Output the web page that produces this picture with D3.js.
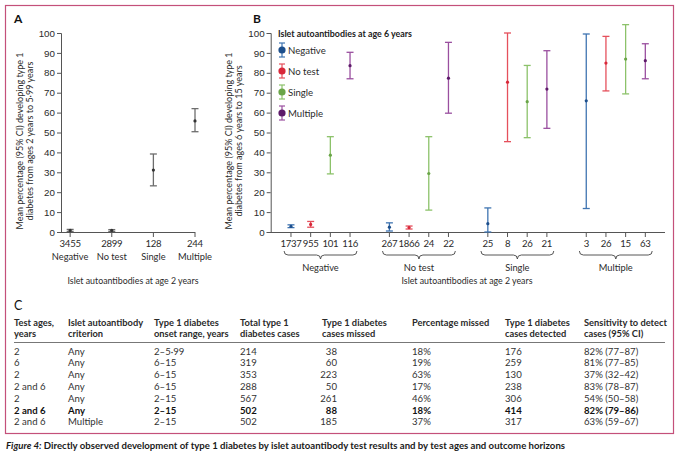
<!DOCTYPE html>
<html>
<head>
<meta charset="utf-8">
<script src="https://cdn.jsdelivr.net/npm/d3@7"></script>
<style>
  body { margin: 0; background: #fff; }
  svg { display: block; font-family: "Lato", "Open Sans", sans-serif; }
</style>
</head>
<body>
<div id="chart"></div>
<script>
// Panel A: autoantibodies at age 2, outcome 2 to 5.99 years
const aCategories = ["Negative", "No test", "Single", "Multiple"];
const aCounts = ["3455", "2899", "128", "244"];
const aMean = [0.8, 0.8, 31.1, 55.8];
const aLow = [0.3, 0.3, 23.2, 50.4];
const aHigh = [1.3, 1.2, 39.2, 62.0];

// Panel B: groups = result at age 2, series = result at age 6
const bGroups = ["Negative", "No test", "Single", "Multiple"];
const bSeries = ["Negative", "No test", "Single", "Multiple"];
const bCounts = [
  ["1737", "955", "101", "116"],
  ["267", "1866", "24", "22"],
  ["25", "8", "26", "21"],
  ["3", "26", "15", "63"]
];
const bMean = [
  [2.8, 3.8, 38.6, 83.6],
  [2.4, 2.2, 29.4, 77.3],
  [4.2, 75.3, 65.5, 71.8],
  [65.9, 84.9, 86.9, 86.1]
];
const bLow = [
  [2.2, 2.4, 29.2, 77.0],
  [0.5, 1.5, 11.0, 59.7],
  [0.0, 45.4, 47.4, 52.1],
  [11.8, 70.9, 69.4, 77.0]
];
const bHigh = [
  [3.6, 5.3, 47.9, 90.3],
  [4.6, 3.0, 47.9, 95.3],
  [12.1, 100, 83.7, 91.1],
  [99.5, 98.3, 104.2, 94.6]
];
const yTicks = [0, 10, 20, 30, 40, 50, 60, 70, 80, 90, 100];

// Panel C table
const tableHeader = [
  ["Test ages,", "years"],
  ["Islet autoantibody", "criterion"],
  ["Type 1 diabetes", "onset range, years"],
  ["Total type 1", "diabetes cases"],
  ["Type 1 diabetes", "cases missed"],
  ["Percentage missed", ""],
  ["Type 1 diabetes", "cases detected"],
  ["Sensitivity to detect", "cases (95% CI)"]
];
const tableRows = [
  ["2", "Any", "2–5·99", "214", "38", "18%", "176", "82% (77–87)"],
  ["6", "Any", "6–15", "319", "60", "19%", "259", "81% (77–85)"],
  ["2", "Any", "6–15", "353", "223", "63%", "130", "37% (32–42)"],
  ["2 and 6", "Any", "6–15", "288", "50", "17%", "238", "83% (78–87)"],
  ["2", "Any", "2–15", "567", "261", "46%", "306", "54% (50–58)"],
  ["2 and 6", "Any", "2–15", "502", "88", "18%", "414", "82% (79–86)"],
  ["2 and 6", "Multiple", "2–15", "502", "185", "37%", "317", "63% (59–67)"]
];
const boldRow = 5;

const W = 680, H = 456;
const barColors = ["#3f74b1", "#e5505c", "#8cc26a", "#9a4f9f"];
const dotColors = ["#1d4f8c", "#d8283a", "#6aa548", "#5e1a6a"];
const axisColor = "#555";
const textColor = "#2b2b2b";

const svg = d3.select("#chart").append("svg")
  .attr("width", W).attr("height", H);

// outer frame
svg.append("rect")
  .attr("x", 5.5).attr("y", 5.5).attr("width", 668).attr("height", 428)
  .attr("fill", "none").attr("stroke", "#c4507a").attr("stroke-width", 1.2);

const y = d3.scaleLinear().domain([0, 100]).range([232, 33]);

function drawYAxis(g, x0) {
  const ax = g.append("g").attr("transform", `translate(${x0},0)`)
    .call(d3.axisLeft(y).tickValues(yTicks).tickSize(4).tickPadding(2));
  ax.select(".domain").attr("stroke", axisColor);
  ax.selectAll(".tick line").attr("stroke", axisColor);
  ax.selectAll(".tick text").attr("fill", textColor).style("font-size", "9.8px");
}

function yTitle(g, x, yc, lines) {
  const t = g.append("text")
    .attr("transform", `translate(${x},${yc}) rotate(-90)`)
    .attr("text-anchor", "middle")
    .attr("fill", textColor)
    .style("font-size", "9px");
  lines.forEach((l, i) => {
    t.append("tspan").attr("x", 0).attr("dy", i === 0 ? 0 : 10.4).text(l);
  });
}

function errorBar(g, x, lo, hi, mean, barColor, dotColor, cap) {
  g.append("line")
    .attr("x1", x).attr("x2", x).attr("y1", y(lo)).attr("y2", y(hi))
    .attr("stroke", barColor).attr("stroke-width", 1.3);
  [lo, hi].forEach(v => {
    g.append("line")
      .attr("x1", x - cap).attr("x2", x + cap).attr("y1", y(v)).attr("y2", y(v))
      .attr("stroke", barColor).attr("stroke-width", 1.3);
  });
  g.append("circle").attr("cx", x).attr("cy", y(mean)).attr("r", 1.6).attr("fill", dotColor);
}

function countLabel(g, x, txt) {
  g.append("text").attr("x", x).attr("y", 246.5).attr("text-anchor", "middle")
    .attr("fill", textColor).style("font-size", "9.6px")
    .style("letter-spacing", "-0.3px").text(txt);
}

// ---------- Panel A ----------
const gA = svg.append("g");
gA.append("text").attr("x", 14).attr("y", 23).attr("font-weight", "bold")
  .style("font-size", "12px").attr("fill", "#111").text("A");

const xA = d3.scaleLinear().domain([-0.22, 3]).range([61, 195]);
drawYAxis(gA, 61);
gA.append("line").attr("x1", 61).attr("x2", xA(3)).attr("y1", 232.5).attr("y2", 232.5)
  .attr("stroke", axisColor);
aCategories.forEach((c, i) => {
  const x = xA(i);
  gA.append("line").attr("x1", x).attr("x2", x).attr("y1", 232).attr("y2", 237)
    .attr("stroke", axisColor);
  countLabel(gA, x, aCounts[i]);
  gA.append("text").attr("x", x).attr("y", 259.5).attr("text-anchor", "middle")
    .attr("fill", textColor).style("font-size", "9.3px").text(c);
  errorBar(gA, x, aLow[i], aHigh[i], aMean[i], "#6d6d6d", "#333", 3.5);
});
gA.append("text").attr("x", 133).attr("y", 284).attr("text-anchor", "middle")
  .attr("fill", textColor).style("font-size", "8.8px").text("Islet autoantibodies at age 2 years");
yTitle(gA, 23, 141, ["Mean percentage (95% CI) developing type 1",
  "diabetes from ages 2 years to 5·99 years"]);

// ---------- Panel B ----------
const gB = svg.append("g");
gB.append("text").attr("x", 253).attr("y", 23).attr("font-weight", "bold")
  .style("font-size", "12px").attr("fill", "#111").text("B");

// slot index: group * 5 + series (one empty slot between groups)
const xB = d3.scaleLinear().domain([-1.03, 19]).range([270.7, 665]);
drawYAxis(gB, 270.7);
gB.append("line").attr("x1", 270.7).attr("x2", 665).attr("y1", 232.5).attr("y2", 232.5)
  .attr("stroke", axisColor);

bGroups.forEach((grp, gi) => {
  bSeries.forEach((s, si) => {
    const x = xB(gi * 5 + si);
    gB.append("line").attr("x1", x).attr("x2", x).attr("y1", 232).attr("y2", 237)
      .attr("stroke", axisColor);
    countLabel(gB, x, bCounts[gi][si]);
    errorBar(gB, x, bLow[gi][si], bHigh[gi][si], bMean[gi][si], barColors[si], dotColors[si], 3.5);
  });
  // curly bracket under group
  const x1 = xB(gi * 5 - 0.35), x2 = xB(gi * 5 + 3.35), xm = (x1 + x2) / 2;
  const y0 = 251, y1 = 255, y2 = 259, r = 4;
  gB.append("path")
    .attr("d", `M${x1},${y0} Q${x1},${y1} ${x1 + r},${y1} L${xm - r},${y1} Q${xm},${y1} ${xm},${y2}` +
      ` Q${xm},${y1} ${xm + r},${y1} L${x2 - r},${y1} Q${x2},${y1} ${x2},${y0}`)
    .attr("fill", "none").attr("stroke", "#444").attr("stroke-width", 0.9);
  gB.append("text").attr("x", xm).attr("y", 271).attr("text-anchor", "middle")
    .attr("fill", textColor).style("font-size", "9.3px").text(grp);
});
gB.append("text").attr("x", 467).attr("y", 284).attr("text-anchor", "middle")
  .attr("fill", textColor).style("font-size", "8.8px").text("Islet autoantibodies at age 2 years");
yTitle(gB, 232, 141, ["Mean percentage (95% CI) developing type 1",
  "diabetes from ages 6 years to 15 years"]);

// legend
const lg = gB.append("g");
lg.append("text").attr("x", 278).attr("y", 37).attr("font-weight", "bold")
  .attr("fill", "#222").style("font-size", "8.9px").text("Islet autoantibodies at age 6 years");
bSeries.forEach((s, i) => {
  const ly = 50 + i * 21;
  lg.append("line").attr("x1", 282).attr("x2", 282).attr("y1", ly - 7).attr("y2", ly + 7)
    .attr("stroke", barColors[i]).attr("stroke-width", 1.2);
  [ly - 7, ly + 7].forEach(v => lg.append("line").attr("x1", 279).attr("x2", 285)
    .attr("y1", v).attr("y2", v).attr("stroke", barColors[i]).attr("stroke-width", 1.2));
  lg.append("circle").attr("cx", 282).attr("cy", ly).attr("r", 3.6).attr("fill", dotColors[i]);
  lg.append("text").attr("x", 288).attr("y", ly + 3.5).attr("fill", textColor)
    .style("font-size", "9.6px").text(s);
});

// ---------- Panel C ----------
const gC = svg.append("g");
gC.append("text").attr("x", 14).attr("y", 310).style("font-size", "12.5px")
  .attr("fill", "#111").text("C");

const colX = [14, 68, 154, 240, 322, 412, 505, 584];
const colAnchor = ["start", "start", "start", "start", "end", "start", "start", "start"];
const colValX = [14, 68, 154, 240, 337, 412, 505, 584];

tableHeader.forEach((h, ci) => {
  h.forEach((line, li) => {
    gC.append("text").attr("x", colX[ci]).attr("y", 325.5 + li * 11.5)
      .attr("font-weight", "bold").attr("fill", "#2a2a2a")
      .style("font-size", "9.3px").text(line);
  });
});
gC.append("line").attr("x1", 14).attr("x2", 665).attr("y1", 342.5).attr("y2", 342.5)
  .attr("stroke", "#777").attr("stroke-width", 1);

tableRows.forEach((row, ri) => {
  row.forEach((cell, ci) => {
    gC.append("text").attr("x", colValX[ci]).attr("y", 354.5 + ri * 11.8)
      .attr("text-anchor", colAnchor[ci])
      .attr("font-weight", ri === boldRow ? "bold" : "normal")
      .attr("fill", ri === boldRow ? "#111" : "#333")
      .style("font-size", "9.6px").text(cell);
  });
});

// caption
const cap = svg.append("text").attr("x", 6).attr("y", 449).attr("fill", "#1a1a1a")
  .attr("font-weight", "bold").style("font-size", "9.6px");
cap.append("tspan").attr("font-style", "italic").text("Figure 4:");
cap.append("tspan").text(" Directly observed development of type 1 diabetes by islet autoantibody test results and by test ages and outcome horizons");
</script>
</body>
</html>
